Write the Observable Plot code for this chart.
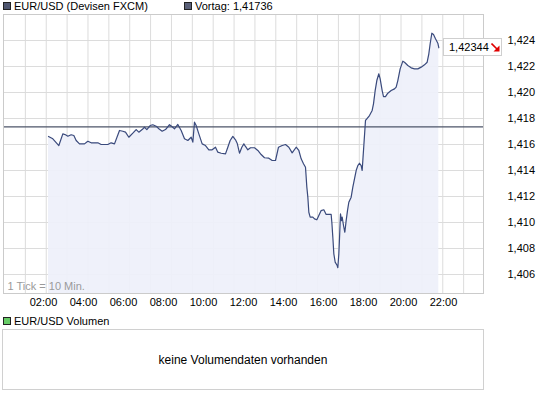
<!DOCTYPE html>
<html>
<head>
<meta charset="utf-8">
<script src="https://cdn.jsdelivr.net/npm/d3@7"></script>
<script src="https://cdn.jsdelivr.net/npm/@observablehq/plot@0.6"></script>
<style>
  html, body { margin: 0; padding: 0; background: #fff; }
  #wrap { position: relative; width: 545px; height: 398px; font-family: "Liberation Sans", Arial, sans-serif; font-size: 11px; color: #000; overflow: hidden; }
  .sq { position: absolute; width: 6px; height: 6px; border: 1px solid #222; }
  .lbl { position: absolute; line-height: 12px; white-space: nowrap; }
  #volbox { position: absolute; left: 2px; top: 329px; width: 480px; height: 59px; border: 1px solid #d0d0d0; display: flex; align-items: center; justify-content: center; font-size: 12px; }
  #pricebox { position: absolute; left: 443px; width: 57px; height: 16px; border: 1px solid #cfcfcf; background: #fff; line-height: 16px; }
</style>
</head>
<body>
<div id="wrap"></div>
<script>
// ---- data ----
const seriesName = "EUR/USD (Devisen FXCM)";
const volumeName = "EUR/USD Volumen";
const noVolumeText = "keine Volumendaten vorhanden";
const tickNote = "1 Tick = 10 Min.";
const prevClose = 1.41736;           // Vortag
const lastPrice = 1.42344;
// time of day in minutes after midnight
const times = [135,148,166,178,186,193,203,211,218,228,
  243,253,263,283,293,313,323,333,348,358,
  366,376,388,398,406,416,423,430,440,448,
  458,466,476,486,498,505,513,523,533,543,
  553,563,568,573,578,586,596,606,616,626,
  636,643,653,666,673,680,688,696,701,708,
  715,721,726,733,741,753,763,773,783,796,
  806,816,825,836,846,856,866,878,886,893,
  900,906,910,913,916,920,928,933,940,946,
  953,961,968,983,985,988,991,995,1001,1003,
  1006,1008,1011,1014,1016,1020,1024,1028,1032,1036,
  1043,1048,1053,1058,1063,1068,1073,1076,1078,1080,
  1086,1090,1098,1106,1110,1115,1120,1126,1130,1136,
  1140,1146,1153,1163,1173,1178,1183,1190,1198,1203,
  1213,1223,1233,1243,1253,1263,1271,1276,1280,1285,
  1290,1296,1303,1306];
const prices = [1.41662,1.41644,1.41592,1.41682,1.41675,1.41664,1.41675,1.41669,1.41631,1.41605,
  1.41605,1.41625,1.41613,1.41613,1.41600,1.41600,1.41613,1.41605,1.41708,1.41702,
  1.41695,1.41656,1.41687,1.41715,1.41695,1.41715,1.41733,1.41715,1.41746,1.41752,
  1.41741,1.41721,1.41702,1.41715,1.41752,1.41738,1.41721,1.41754,1.41708,1.41644,
  1.41631,1.41656,1.41618,1.41772,1.41746,1.41682,1.41605,1.41592,1.41559,1.41559,
  1.41579,1.41541,1.41533,1.41528,1.41579,1.41631,1.41662,1.41636,1.41610,1.41533,
  1.41579,1.41605,1.41585,1.41559,1.41575,1.41575,1.41554,1.41523,1.41498,1.41495,
  1.41477,1.41477,1.41579,1.41592,1.41600,1.41579,1.41536,1.41579,1.41554,1.41490,
  1.41452,1.41425,1.41272,1.41195,1.41079,1.41041,1.41041,1.41028,1.41021,1.41054,
  1.41092,1.41098,1.41062,1.41062,1.41002,1.40887,1.40759,1.40695,1.40669,1.40652,
  1.40759,1.40875,1.41067,1.41015,1.41041,1.40977,1.40925,1.41015,1.41092,1.41156,
  1.41195,1.41272,1.41336,1.41400,1.41438,1.41456,1.41438,1.41400,1.41477,1.41554,
  1.41785,1.41798,1.41823,1.41862,1.41913,1.42015,1.42092,1.42144,1.42105,1.42015,
  1.41969,1.41969,1.41995,1.42015,1.42028,1.42041,1.42092,1.42182,1.42241,1.42233,
  1.42208,1.42190,1.42182,1.42182,1.42195,1.42213,1.42233,1.42298,1.42375,1.42456,
  1.42446,1.42413,1.42379,1.42344];
const xTicks = [120,240,360,480,600,720,840,960,1080,1200,1320];
const yTicks = [1.406,1.408,1.410,1.412,1.414,1.416,1.418,1.420,1.422,1.424];
const xDomain = [0, 1440];
const yDomain = [1.40454, 1.426];
const vGridCount = 23;   // vertical grid columns across the day

// ---- build ----
const data = times.map((t, i) => ({t, v: prices[i]}));
const fmtDe = v => d3.format(".3f")(v).replace(".", ",");
const fmtPrice = v => d3.format(".5f")(v).replace(".", ",");
const fmtTime = m => String(Math.floor(m / 60)).padStart(2, "0") + ":" + String(m % 60).padStart(2, "0");
const vGrid = d3.range(1, vGridCount).map(k => k * (xDomain[1] - xDomain[0]) / vGridCount + 3);

const chart = Plot.plot({
  width: 545,
  height: 312,
  marginLeft: 3,
  marginRight: 62,
  marginTop: 14,
  marginBottom: 19,
  style: { fontFamily: "'Liberation Sans', Arial, sans-serif", fontSize: "11px", color: "#000", background: "transparent" },
  x: { domain: xDomain, ticks: xTicks, tickFormat: fmtTime, tickSize: 0, tickPadding: 5, label: null },
  y: { domain: yDomain, ticks: yTicks, tickFormat: fmtDe, tickSize: 0, tickPadding: 24, label: null, axis: "right" },
  marks: [
    Plot.gridY(yTicks, { stroke: "#dcdcdc", strokeOpacity: 1 }),
    Plot.ruleX(vGrid, { stroke: "#dcdcdc", strokeOpacity: 1 }),
    Plot.areaY(data, { x: "t", y1: yDomain[0], y2: "v", fill: "#eef0fa", fillOpacity: 0.92 }),
    Plot.ruleY([prevClose], { stroke: "#4d5468", strokeWidth: 1.3 }),
    Plot.lineY(data, { x: "t", y: "v", stroke: "#3a4a7c", strokeWidth: 1.2 }),
    Plot.frame({ stroke: "#cbcbcb" }),
    Plot.text([tickNote], { frameAnchor: "bottom-left", dx: 4, dy: -4, fill: "#9a9a9a", textAnchor: "start", lineAnchor: "bottom" })
  ]
});
chart.style.position = "absolute";
chart.style.left = "0px";
chart.style.top = "0px";

const wrap = document.getElementById("wrap");
wrap.appendChild(chart);

function addLegend(x, y, color, text) {
  const s = document.createElement("div");
  s.className = "sq";
  s.style.left = x + "px"; s.style.top = (y + 2) + "px"; s.style.background = color;
  wrap.appendChild(s);
  const l = document.createElement("div");
  l.className = "lbl";
  l.style.left = (x + 11) + "px"; l.style.top = y + "px";
  l.textContent = text;
  wrap.appendChild(l);
}
addLegend(3, 0, "#4f5670", seriesName);
addLegend(184, 0, "#5a6078", "Vortag: " + fmtPrice(prevClose));
addLegend(3, 315, "#66cc66", volumeName);

// price box at the last price, positioned via the y scale
const yPos = chart.scale("y").apply(lastPrice);
const pb = document.createElement("div");
pb.id = "pricebox";
pb.style.top = (yPos - 9) + "px";
pb.innerHTML = '<span style="position:absolute;left:5px;top:0">' + fmtPrice(lastPrice) +
  '</span><svg style="position:absolute;left:47px;top:4px" width="9" height="9" viewBox="0 0 9 9">' +
  '<line x1="0.5" y1="0.5" x2="6" y2="6" stroke="#e00000" stroke-width="1.6"/>' +
  '<polygon points="8.5,2.5 8.5,8.5 2.5,8.5" fill="#e00000"/></svg>';
wrap.appendChild(pb);

const vb = document.createElement("div");
vb.id = "volbox";
vb.textContent = noVolumeText;
wrap.appendChild(vb);
</script>
</body>
</html>
